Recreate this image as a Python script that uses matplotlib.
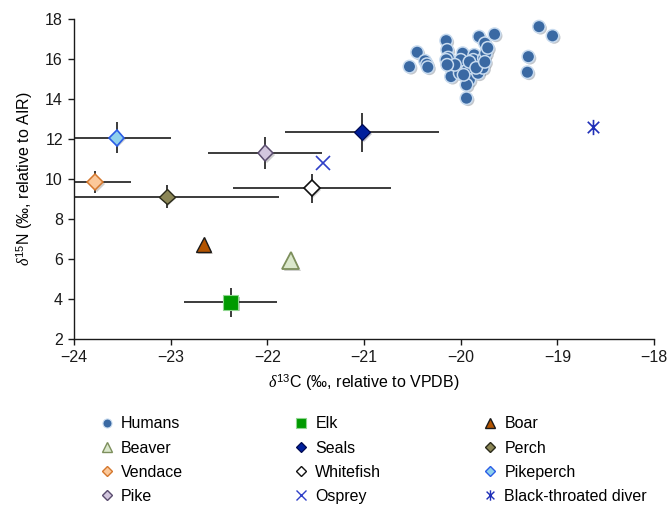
import matplotlib
matplotlib.use("Agg")
import matplotlib.pyplot as plt
import matplotlib.patheffects as pe
from matplotlib.lines import Line2D
from matplotlib.path import Path

plt.rcParams['font.family'] = ['Liberation Sans', 'DejaVu Sans']
plt.rcParams['mathtext.fontset'] = 'custom'
plt.rcParams['mathtext.rm'] = 'Liberation Sans'
plt.rcParams['mathtext.it'] = 'Liberation Serif:italic'

# Human bone collagen isotope values
humans_c = [-20.53, -20.45, -20.37, -20.35, -20.15, -20.14, -20.13, -20.15, -19.98, -20.03,
            -20.10, -20.01, -19.93, -19.91, -19.94, -19.86, -19.87, -19.81, -19.75, -19.76,
            -19.82, -19.65, -19.94, -19.74, -19.19, -19.05, -19.30, -19.31, -20.00, -20.06,
            -19.91, -19.72, -19.77, -19.84, -19.97, -20.34, -20.14, -19.75]
humans_n = [15.63, 16.35, 15.92, 15.75, 16.93, 16.47, 16.08, 15.97, 16.30, 15.63,
            15.13, 15.30, 15.47, 14.97, 14.72, 16.22, 15.97, 17.13, 16.80, 16.05,
            15.30, 17.25, 14.05, 16.30, 17.63, 17.17, 16.13, 15.35, 15.97, 15.72,
            15.87, 16.57, 15.57, 15.57, 15.22, 15.60, 15.72, 15.87]

# Fauna: mean d13C, mean d15N, sd d13C, sd d15N (None = single value)
species = ['Elk', 'Boar', 'Beaver', 'Seals', 'Perch', 'Vendace',
           'Whitefish', 'Pikeperch', 'Pike', 'Osprey', 'Black-throated diver']
fauna_c = [-22.38, -22.66, -21.76, -21.02, -23.04, -23.78, -21.54, -23.56, -22.02, -21.42, -18.63]
fauna_n = [3.83, 6.72, 5.92, 12.35, 9.13, 9.85, 9.55, 12.07, 11.30, 10.83, 12.60]
fauna_c_sd = [0.48, None, None, 0.80, 1.16, 0.37, 0.82, 0.56, 0.59, None, None]
fauna_n_sd = [0.74, None, None, 0.98, 0.60, 0.54, 0.72, 0.77, 0.79, None, None]

# asterisk: vertical stroke plus a diagonal cross
star = Path([(0, -1), (0, 1), (-0.75, -0.75), (0.75, 0.75), (-0.75, 0.75), (0.75, -0.75)],
            [Path.MOVETO, Path.LINETO, Path.MOVETO, Path.LINETO, Path.MOVETO, Path.LINETO])

styles = {
    'Elk':       dict(marker='s', ms=10.5, mfc='#009a00', mec='#8fd68f', mew=0.8),
    'Boar':      dict(marker='^', ms=11, mfc='#b35400', mec='#1a1a1a', mew=1.0),
    'Beaver':    dict(marker='^', ms=12, mfc='#dbe8cc', mec='#7d8f5c', mew=1.3),
    'Seals':     dict(marker='D', ms=8, mfc='#001f9c', mec='#000a50', mew=0.9),
    'Perch':     dict(marker='D', ms=8, mfc='#8b8656', mec='#2a2a1a', mew=1.0),
    'Vendace':   dict(marker='D', ms=8, mfc='#fbc89a', mec='#d5782e', mew=1.1),
    'Whitefish': dict(marker='D', ms=8, mfc='#ffffff', mec='#111111', mew=1.2),
    'Pikeperch': dict(marker='D', ms=8, mfc='#8fd0ec', mec='#2b5de6', mew=1.2),
    'Pike':      dict(marker='D', ms=8, mfc='#d2c6de', mec='#5a4c6e', mew=1.1),
    'Osprey':    dict(marker='x', ms=10, mfc='none', mec='#2f3fc8', mew=1.2),
    'Black-throated diver': dict(marker=star, ms=11, mfc='none', mec='#1f2fb8', mew=1.2),
}
legend_ms = {'s': 7, '^': 7.5, 'D': 5.5, 'x': 7, 'o': 6.5}

fig = plt.figure(figsize=(6.68, 5.07), dpi=100)
ax = fig.add_axes([0.1108, 0.3314, 0.8683, 0.6306])

shadow = [pe.SimplePatchShadow(offset=(1.2, -1.2), alpha=0.25), pe.Normal()]

handles = {}
for name, x, y, xs, ys in zip(species, fauna_c, fauna_n, fauna_c_sd, fauna_n_sd):
    if xs is not None:
        ax.errorbar(x, y, xerr=xs, yerr=ys, fmt='none', ecolor='#1a1a1a',
                    elinewidth=1.2, capsize=0, zorder=2)
    st = styles[name]
    ln, = ax.plot([x], [y], linestyle='none', zorder=4, **st)
    if st['mfc'] != 'none':
        ln.set_path_effects(shadow)
    hms = legend_ms.get(st['marker'], 7.5) if isinstance(st['marker'], str) else 7.5
    handles[name] = Line2D([], [], linestyle='none', marker=st['marker'], ms=hms,
                           mfc=st['mfc'], mec=st['mec'], mew=min(st['mew'], 1.0))

hum, = ax.plot(humans_c, humans_n, linestyle='none', marker='o', ms=9,
               mfc='#3a69a3', mec='#c8dbef', mew=1.1, zorder=3)
hum.set_path_effects(shadow)
handles['Humans'] = Line2D([], [], linestyle='none', marker='o', ms=6.5,
                           mfc='#3a69a3', mec='#c8dbef', mew=0.8)

ax.set_xlim(-24, -18)
ax.set_ylim(2, 18)
ax.set_xticks(range(-24, -17))
ax.set_yticks(range(2, 19, 2))
ax.set_xticklabels(['\u2212%d' % abs(v) for v in range(-24, -17)])
for s in ['top', 'right']:
    ax.spines[s].set_visible(False)
for s in ['left', 'bottom']:
    ax.spines[s].set_linewidth(1.0)
    ax.spines[s].set_color('#1a1a1a')
ax.tick_params(direction='out', length=4.5, width=1.0, labelsize=11.5, colors='#1a1a1a')

ax.set_xlabel(r'$\delta^{13}$C ($\mathit{‰}$, relative to VPDB)', fontsize=11.5, labelpad=5)
ax.set_ylabel(r'$\delta^{15}$N ($\mathit{‰}$, relative to AIR)', fontsize=11.5, labelpad=7)

columns = [['Humans', 'Beaver', 'Vendace', 'Pike'],
           ['Elk', 'Seals', 'Whitefish', 'Osprey'],
           ['Boar', 'Perch', 'Pikeperch', 'Black-throated diver']]
col_x = [0.148, 0.4386, 0.7216]
for names, cx in zip(columns, col_x):
    leg = fig.legend([handles[k] for k in names], names, loc='upper left',
                     bbox_to_anchor=(cx, 0.179), ncol=1, frameon=False, fontsize=11.5,
                     handlelength=1.0, handletextpad=0.4, labelspacing=0.58,
                     borderpad=0, borderaxespad=0)

fig.savefig('out.png', dpi=100)
